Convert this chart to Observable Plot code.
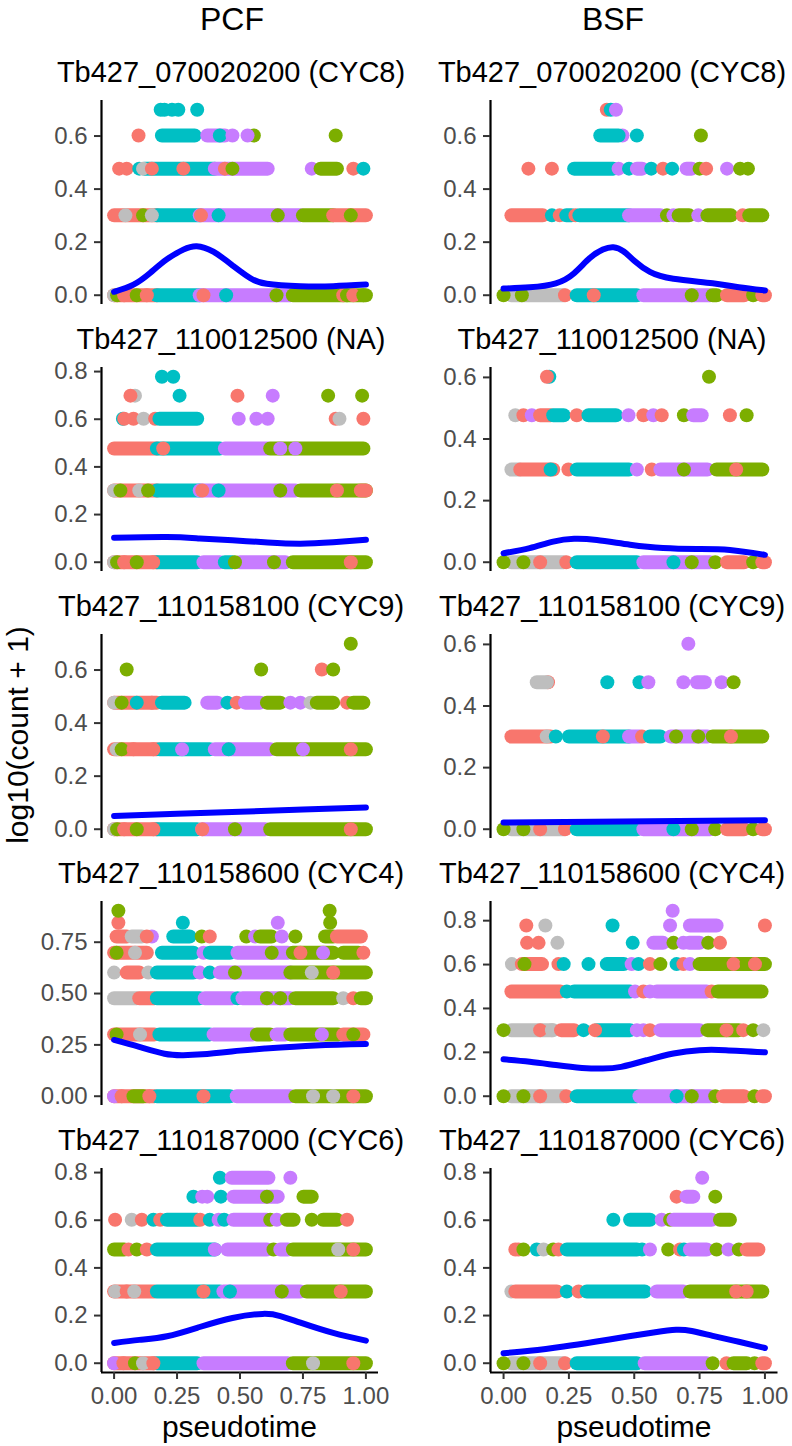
<!DOCTYPE html>
<html><head><meta charset="utf-8">
<script src="https://cdn.jsdelivr.net/npm/d3@7"></script>
<script src="https://cdn.jsdelivr.net/npm/@observablehq/plot@0.6"></script>
<style>
html,body{margin:0;padding:0;background:#fff;}
#wrap{position:relative;width:792px;height:1446px;overflow:hidden;background:#fff;}
.pnl{position:absolute;}
</style></head>
<body><div id="wrap"></div>
<script>
// ---------------- DATA ----------------
const columns = ["PCF", "BSF"];
const genes = ["Tb427_070020200 (CYC8)", "Tb427_110012500 (NA)", "Tb427_110158100 (CYC9)", "Tb427_110158600 (CYC4)", "Tb427_110187000 (CYC6)"];
const xLabel = "pseudotime";
const yLabel = "log10(count + 1)";
const groupKeys = ["s", "g", "c", "p", "n"];
const groupColors = ["#F8766D", "#7CAE00", "#00BFC4", "#C77CFF", "#BEBEBE"];
const xTicks = [0, 0.25, 0.5, 0.75, 1];
const pcfTicks = [[0, 0.2, 0.4, 0.6], [0, 0.2, 0.4, 0.6, 0.8], [0, 0.2, 0.4, 0.6], [0, 0.25, 0.5, 0.75], [0, 0.2, 0.4, 0.6, 0.8]];
const pcfDigits = [1, 1, 1, 2, 1];
const bsfTicks = [[0, 0.2, 0.4, 0.6], [0, 0.2, 0.4, 0.6], [0, 0.2, 0.4, 0.6], [0, 0.2, 0.4, 0.6, 0.8], [0, 0.2, 0.4, 0.6, 0.8]];
const bsfDigits = [1, 1, 1, 1, 1];

// cells: [count, group, pseudotime start, pseudotime end (runs of overlapping cells)]
const pcf_070020200 = [
 [0,"s",0,0.17],[0,"c",0.17,0.34],[0,"p",0.34,0.70],[0,"g",0.71,1.0],
 [0,"n",0],[0,"g",0.012],[0,"s",0.04],[0,"g",0.09],[0,"s",0.13],[0,"s",0.355],[0,"c",0.445],[0,"g",0.645],[0,"s",0.91],[0,"g",0.925],[0,"s",0.95],[0,"g",0.99],
 [1,"s",0,0.17],[1,"c",0.17,0.34],[1,"p",0.34,0.74],[1,"g",0.75,0.87],[1,"s",0.87,1.0],
 [1,"n",0.045],[1,"g",0.115],[1,"n",0.15],[1,"s",0.345],[1,"c",0.415],[1,"g",0.65],[1,"g",0.94],
 [2,"s",0.02],[2,"s",0.05],[2,"c",0.10],[2,"c",0.12,0.40],[2,"n",0.115],[2,"s",0.15],[2,"s",0.275],[2,"p",0.40,0.61],[2,"s",0.44],[2,"g",0.47],[2,"p",0.785],[2,"g",0.82,0.885],[2,"s",0.95],[2,"c",0.99],
 [3,"s",0.097],[3,"c",0.19,0.32],[3,"p",0.37,0.44],[3,"c",0.42],[3,"p",0.47],[3,"g",0.555],[3,"p",0.53],[3,"g",0.88],
 [4,"c",0.185],[4,"c",0.20],[4,"c",0.23],[4,"c",0.255],[4,"c",0.33]
];
const pcf_110012500 = [
 [0,"s",0,0.17],[0,"c",0.17,0.33],[0,"p",0.355,0.42],[0,"c",0.44,0.47],[0,"p",0.5,0.68],[0,"g",0.71,1.0],
 [0,"n",0],[0,"g",0.012],[0,"s",0.04],[0,"g",0.09],[0,"s",0.155],[0,"g",0.48],[0,"g",0.635],[0,"s",0.94],
 [1,"s",0,0.17],[1,"c",0.17,0.34],[1,"p",0.34,0.72],[1,"g",0.74,1.0],
 [1,"n",0],[1,"g",0.025],[1,"n",0.10],[1,"g",0.135],[1,"s",0.35],[1,"c",0.415],[1,"g",0.66],[1,"s",0.885],[1,"s",0.98,1.0],
 [2,"s",0,0.17],[2,"c",0.17,0.42],[2,"p",0.44,0.61],[2,"g",0.62,0.99],[2,"s",0.195],[2,"p",0.66],[2,"p",0.72],
 [3,"c",0.035],[3,"s",0.04],[3,"s",0.077],[3,"n",0.117],[3,"s",0.163],[3,"c",0.18,0.33],[3,"p",0.495],[3,"p",0.565],[3,"p",0.61],[3,"s",0.88],[3,"n",0.895],[3,"s",0.99],
 [4,"n",0.083],[4,"s",0.065],[4,"c",0.26],[4,"s",0.49],[4,"p",0.63],[4,"g",0.85],[4,"g",0.985],
 [5,"c",0.19],[5,"c",0.235]
];
const pcf_110158100 = [
 [0,"s",0,0.17],[0,"c",0.17,0.33],[0,"p",0.35,0.60],[0,"g",0.62,1.0],
 [0,"n",0],[0,"g",0.012],[0,"s",0.04],[0,"g",0.09],[0,"s",0.156],[0,"s",0.35],[0,"g",0.48],[0,"s",0.94],
 [1,"s",0,0.17],[1,"c",0.18,0.38],[1,"p",0.40,0.62],[1,"g",0.645,1.0],
 [1,"n",0.01],[1,"g",0.03],[1,"s",0.077],[1,"s",0.156],[1,"p",0.27],[1,"c",0.455],[1,"p",0.75],[1,"s",0.94],
 [2,"s",0,0.17],[2,"n",0],[2,"g",0.03],[2,"c",0.09],[2,"s",0.15],[2,"c",0.19,0.28],[2,"p",0.37,0.41],[2,"c",0.45],[2,"s",0.487],[2,"p",0.52,0.58],[2,"g",0.607,0.66],[2,"p",0.70],[2,"p",0.74],[2,"n",0.78],[2,"g",0.805,0.87],[2,"s",0.925],[2,"g",0.95,0.99],
 [3,"g",0.05],[3,"g",0.584],[3,"s",0.825],[3,"g",0.87],
 [4,"g",0.94]
];
const pcf_110158600 = [
 [0,"s",0,0.16],[0,"c",0.17,0.46],[0,"p",0.487,0.70],[0,"g",0.72,1.0],
 [0,"p",0],[0,"s",0.03],[0,"g",0.077,0.116],[0,"s",0.14],[0,"s",0.355],[0,"n",0.79],[0,"n",0.87],[0,"s",0.95],
 [1,"s",0,0.16],[1,"c",0.18,0.38],[1,"p",0.395,0.55],[1,"g",0.567,0.62],[1,"p",0.645,0.68],[1,"g",0.70,0.89],[1,"s",0.91,0.99],
 [1,"g",0.01],[1,"n",0.103],[1,"p",0.825],[1,"g",0.95],
 [2,"n",0,0.09],[2,"s",0.10,0.16],[2,"c",0.17,0.34],[2,"p",0.36,0.47],[2,"c",0.49],[2,"p",0.51,0.70],[2,"g",0.607],[2,"g",0.66],[2,"g",0.72,0.87],[2,"n",0.91],[2,"s",0.95],[2,"g",0.98,1.0],
 [3,"n",0],[3,"s",0.05,0.10],[3,"n",0.136],[3,"c",0.17,0.315],[3,"p",0.34],[3,"c",0.38],[3,"p",0.42,0.70],[3,"g",0.48],[3,"g",0.70,1.0],[3,"n",0.785],[3,"s",0.87],
 [4,"s",0,0.13],[4,"g",0.01],[4,"n",0.083],[4,"c",0.19,0.315],[4,"p",0.355],[4,"c",0.38,0.46],[4,"p",0.49,0.69],[4,"g",0.626],[4,"g",0.71,0.87],[4,"s",0.74],[4,"p",0.83],[4,"g",0.91,0.97],[4,"s",0.99],
 [5,"s",0.01,0.05],[5,"n",0.07,0.11],[5,"p",0.15],[5,"s",0.13],[5,"c",0.235,0.30],[5,"g",0.348],[5,"s",0.38],[5,"g",0.525],[5,"p",0.56],[5,"g",0.58,0.625],[5,"p",0.666],[5,"g",0.72],[5,"g",0.838,0.87],[5,"s",0.885,0.98],
 [6,"s",0.017],[6,"c",0.273],[6,"p",0.65],[6,"g",0.858],
 [7,"g",0.017],[7,"g",0.856]
];
const pcf_110187000 = [
 [0,"s",0,0.16],[0,"c",0.17,0.33],[0,"p",0.355,0.69],[0,"g",0.71,1.0],
 [0,"p",0],[0,"s",0.037],[0,"g",0.083],[0,"n",0.115],[0,"s",0.156],[0,"n",0.79],[0,"s",0.95],
 [1,"s",0,0.16],[1,"c",0.17,0.42],[1,"p",0.434,0.74],[1,"g",0.765,1.0],
 [1,"n",0.004],[1,"s",0.05],[1,"n",0.08],[1,"s",0.355],[1,"c",0.46],[1,"g",0.666],[1,"s",0.9],
 [2,"g",0,0.04],[2,"s",0.057],[2,"g",0.09],[2,"s",0.13],[2,"c",0.17,0.40],[2,"p",0.40],[2,"p",0.45,0.607],[2,"g",0.633],[2,"p",0.66,0.69],[2,"g",0.71,1.0],[2,"n",0.89],[2,"s",0.95],
 [3,"s",0.004],[3,"n",0.07],[3,"s",0.11],[3,"c",0.156],[3,"s",0.183],[3,"c",0.21,0.33],[3,"s",0.342],[3,"c",0.38],[3,"p",0.415],[3,"c",0.437],[3,"p",0.474,0.607],[3,"g",0.62],[3,"p",0.646],[3,"g",0.686,0.713],[3,"g",0.785],[3,"g",0.83,0.885],[3,"s",0.925],
 [4,"c",0.315],[4,"p",0.35],[4,"p",0.37],[4,"c",0.424],[4,"p",0.474,0.65],[4,"g",0.607],[4,"g",0.752,0.785],
 [5,"c",0.42],[5,"p",0.467,0.613],[5,"p",0.7]
];
const bsf_070020200 = [
 [0,"n",0.03,0.23],[0,"g",0],[0,"g",0.07],[0,"s",0.235],[0,"c",0.28,0.51],[0,"s",0.345],[0,"p",0.535,0.79],[0,"g",0.72],[0,"g",0.80,0.815],[0,"s",0.855,0.92],[0,"g",0.955],[0,"s",0.99,1.0],
 [1,"s",0.03,0.15],[1,"c",0.185],[1,"s",0.215],[1,"c",0.24,0.26],[1,"s",0.275],[1,"c",0.29,0.48],[1,"p",0.48,0.60],[1,"g",0.625],[1,"p",0.65],[1,"g",0.67,0.71],[1,"p",0.745],[1,"g",0.78,0.87],[1,"s",0.915],[1,"g",0.94,0.99],
 [2,"s",0.095],[2,"s",0.185],[2,"c",0.27,0.42],[2,"p",0.44],[2,"c",0.48],[2,"p",0.51,0.53],[2,"c",0.565],[2,"s",0.61],[2,"c",0.645],[2,"p",0.70,0.72],[2,"g",0.75],[2,"s",0.775],[2,"p",0.855],[2,"g",0.905],[2,"g",0.935],
 [3,"p",0.455],[3,"c",0.37,0.44],[3,"c",0.51],[3,"g",0.755],
 [4,"s",0.395],[4,"c",0.41],[4,"p",0.43]
];
const bsf_110012500 = [
 [0,"n",0.03,0.23],[0,"g",0],[0,"g",0.076],[0,"s",0.14],[0,"s",0.24],[0,"c",0.28,0.51],[0,"p",0.535,0.79],[0,"c",0.65],[0,"g",0.72],[0,"g",0.81],[0,"s",0.855,0.92],[0,"g",0.955],[0,"s",0.99,1.0],
 [1,"n",0.03,0.06],[1,"s",0.064,0.19],[1,"c",0.18],[1,"s",0.248],[1,"c",0.28,0.48],[1,"p",0.51],[1,"s",0.567],[1,"p",0.6,0.78],[1,"g",0.69],[1,"g",0.815,0.99],[1,"s",0.89],
 [2,"n",0.045],[2,"s",0.076],[2,"p",0.108],[2,"s",0.14,0.18],[2,"c",0.19,0.23],[2,"s",0.28],[2,"c",0.325,0.43],[2,"p",0.478],[2,"s",0.535],[2,"p",0.573],[2,"s",0.605],[2,"g",0.69],[2,"p",0.726,0.758],[2,"s",0.866],[2,"g",0.93],
 [3,"c",0.175],[3,"s",0.166],[3,"g",0.786]
];
const bsf_110158100 = [
 [0,"n",0.03,0.23],[0,"g",0],[0,"g",0.076],[0,"s",0.14],[0,"s",0.235],[0,"c",0.28,0.51],[0,"p",0.535,0.79],[0,"c",0.65],[0,"g",0.72],[0,"g",0.81],[0,"s",0.855,0.92],[0,"g",0.955],[0,"s",0.99,1.0],
 [1,"s",0.03,0.18],[1,"n",0.165],[1,"c",0.2],[1,"c",0.25,0.48],[1,"s",0.38],[1,"p",0.48,0.52],[1,"s",0.53],[1,"c",0.56,0.6],[1,"p",0.64,0.78],[1,"g",0.66],[1,"g",0.745],[1,"g",0.80,0.99],[1,"s",0.87],
 [2,"s",0.17],[2,"n",0.127,0.166],[2,"c",0.397],[2,"c",0.52],[2,"p",0.554],[2,"p",0.688],[2,"p",0.74,0.77],[2,"p",0.834],[2,"g",0.88],
 [3,"p",0.707]
];
const bsf_110158600 = [
 [0,"n",0.03,0.23],[0,"g",0],[0,"g",0.076],[0,"s",0.14],[0,"s",0.24],[0,"c",0.28,0.51],[0,"p",0.52,0.79],[0,"c",0.662],[0,"g",0.72],[0,"g",0.81],[0,"s",0.84,0.92],[0,"g",0.96],[0,"s",0.99,1.0],
 [1,"n",0.03,0.19],[1,"g",0],[1,"s",0.14],[1,"n",0.185],[1,"s",0.22,0.27],[1,"c",0.306],[1,"c",0.357,0.484],[1,"s",0.35],[1,"p",0.51],[1,"p",0.535],[1,"s",0.56],[1,"p",0.6,0.75],[1,"g",0.78,0.9],[1,"s",0.853],[1,"s",0.917],[1,"g",0.955],[1,"n",0.994],
 [2,"s",0.03,0.217],[2,"c",0.242],[2,"c",0.27,0.484],[2,"p",0.503],[2,"s",0.535],[2,"p",0.56],[2,"p",0.586,0.777],[2,"s",0.796],[2,"g",0.82,0.987],
 [3,"n",0.032],[3,"s",0.07,0.147],[3,"g",0.08],[3,"s",0.21],[3,"c",0.23],[3,"c",0.325],[3,"c",0.395,0.46],[3,"p",0.49],[3,"c",0.516],[3,"s",0.56],[3,"g",0.6],[3,"c",0.662],[3,"s",0.688],[3,"p",0.713],[3,"g",0.75,1.0],[3,"s",0.88],[3,"g",0.93],[3,"s",0.962],
 [4,"s",0.09],[4,"s",0.134],[4,"n",0.206],[4,"c",0.494],[4,"p",0.573,0.61],[4,"g",0.65],[4,"p",0.688],[4,"p",0.71,0.75],[4,"g",0.783],[4,"s",0.828],
 [5,"s",0.087],[5,"n",0.16],[5,"c",0.417],[5,"p",0.637],[5,"p",0.713,0.815],[5,"s",1.0],
 [6,"p",0.647]
];
const bsf_110187000 = [
 [0,"n",0.03,0.23],[0,"g",0],[0,"g",0.076],[0,"s",0.14],[0,"s",0.235],[0,"c",0.28,0.51],[0,"p",0.54,0.777],[0,"g",0.8],[0,"s",0.853],[0,"g",0.88,0.93],[0,"g",0.96],[0,"s",0.99,1.0],
 [1,"n",0.03],[1,"s",0.045,0.204],[1,"c",0.242],[1,"s",0.287],[1,"c",0.318,0.54],[1,"p",0.586,0.688],[1,"g",0.713,0.99],[1,"s",0.89],[1,"s",0.93],
 [2,"s",0.045],[2,"s",0.057],[2,"g",0.076],[2,"c",0.127],[2,"n",0.153],[2,"g",0.19],[2,"s",0.21],[2,"c",0.242,0.51],[2,"c",0.53],[2,"p",0.56],[2,"g",0.63],[2,"s",0.675],[2,"c",0.69],[2,"p",0.713,0.777],[2,"g",0.815],[2,"p",0.86],[2,"g",0.9],[2,"s",0.93,0.975],
 [3,"c",0.42],[3,"c",0.484,0.56],[3,"p",0.605],[3,"g",0.637],[3,"p",0.65,0.796],[3,"g",0.828,0.866],
 [4,"s",0.662],[4,"p",0.70,0.726],[4,"g",0.81],
 [5,"p",0.76]
];

// smoothed fits: [pseudotime, log10(count+1)]
const pcfFit_070020200 = [[0,0.013],[0.077,0.04],[0.143,0.084],[0.209,0.135],[0.275,0.172],[0.328,0.185],[0.394,0.164],[0.474,0.110],[0.54,0.065],[0.606,0.043],[0.74,0.034],[0.87,0.034],[1.0,0.04]];
const pcfFit_110012500 = [[0,0.103],[0.21,0.106],[0.34,0.10],[0.47,0.092],[0.61,0.083],[0.74,0.078],[0.87,0.084],[1,0.094]];
const pcfFit_110158100 = [[0,0.05],[0.5,0.066],[1,0.082]];
const pcfFit_110158600 = [[0,0.274],[0.1,0.24],[0.2,0.207],[0.27,0.2],[0.35,0.204],[0.5,0.222],[0.6,0.232],[0.8,0.247],[1,0.254]];
const pcfFit_110187000 = [[0,0.085],[0.1,0.098],[0.21,0.113],[0.34,0.152],[0.47,0.19],[0.59,0.207],[0.66,0.198],[0.74,0.17],[0.87,0.127],[1,0.095]];
const bsfFit_070020200 = [[0,0.025],[0.1,0.03],[0.2,0.045],[0.27,0.083],[0.33,0.14],[0.38,0.172],[0.42,0.181],[0.46,0.165],[0.5,0.13],[0.56,0.088],[0.65,0.062],[0.8,0.045],[0.9,0.03],[1.0,0.018]];
const bsfFit_110012500 = [[0,0.029],[0.1,0.046],[0.19,0.067],[0.27,0.076],[0.357,0.072],[0.484,0.057],[0.61,0.046],[0.74,0.043],[0.866,0.04],[1,0.024]];
const bsfFit_110158100 = [[0,0.022],[1,0.029]];
const bsfFit_110158600 = [[0,0.168],[0.1,0.157],[0.2,0.142],[0.3,0.129],[0.38,0.126],[0.45,0.134],[0.55,0.165],[0.65,0.195],[0.75,0.21],[0.85,0.21],[1,0.2]];
const bsfFit_110187000 = [[0,0.042],[0.1,0.052],[0.23,0.07],[0.35,0.09],[0.48,0.113],[0.58,0.13],[0.66,0.14],[0.72,0.135],[0.8,0.115],[0.9,0.09],[1,0.064]];

// ---------------- DRAW ----------------
const FONT = '"Liberation Sans", Arial, Helvetica, sans-serif';
const pcfRuns = [pcf_070020200, pcf_110012500, pcf_110158100, pcf_110158600, pcf_110187000];
const bsfRuns = [bsf_070020200, bsf_110012500, bsf_110158100, bsf_110158600, bsf_110187000];
const pcfFits = [pcfFit_070020200, pcfFit_110012500, pcfFit_110158100, pcfFit_110158600, pcfFit_110187000];
const bsfFits = [bsfFit_070020200, bsfFit_110012500, bsfFit_110158100, bsfFit_110158600, bsfFit_110187000];

const colGeo = [
  {left: 0, ml: 101, mr: 18, titleX: 231, headX: 232, xlabX: 239.5},
  {left: 396, ml: 94, mr: 14.5, titleX: 612, headX: 613, xlabX: 634}
];
const rowTop0 = 99.5, rowStep = 267, plotH = 204;
const wrap = document.getElementById("wrap");

function makePanel(runs, fit, ticks, digits, col, row, showX) {
  const data = runs.map(r => ({y: Math.log10(r[0] + 1), g: r[1], x1: r[2], x2: r.length > 3 ? r[3] : r[2]}));
  const ymax = d3.max(data, d => d.y);
  const y0 = -0.05 * ymax, y1 = 1.05 * ymax;
  const geo = colGeo[col];
  const mt = 8, mb = showX ? 50 : 8;
  const marks = [
    Plot.link(data, {x1: "x1", x2: "x2", y1: "y", y2: "y", stroke: "g", strokeWidth: 14, strokeLinecap: "round"}),
    Plot.line(fit, {x: d => d[0], y: d => d[1], stroke: "#0000FF", strokeWidth: 6, curve: "natural"}),
    Plot.ruleX([-0.05], {stroke: "#000", strokeWidth: 2.2}),
    Plot.axisY({ticks, tickFormat: d3.format("." + digits + "f"), tickSize: 7, tickPadding: 7, stroke: "#333", strokeWidth: 2, fill: "#4D4D4D", fontSize: 24, label: null})
  ];
  if (showX) {
    marks.push(Plot.ruleY([y0], {stroke: "#000", strokeWidth: 2.2}));
    marks.push(Plot.axisX({ticks: xTicks, tickFormat: d3.format(".2f"), tickSize: 7, tickPadding: 7, stroke: "#333", strokeWidth: 2, fill: "#4D4D4D", fontSize: 24, label: null}));
  }
  const svg = Plot.plot({
    width: 396, height: plotH + mt + mb,
    marginLeft: geo.ml, marginRight: geo.mr, marginTop: mt, marginBottom: mb,
    x: {domain: [-0.05, 1.05], label: null, axis: showX ? undefined : null},
    y: {domain: [y0, y1], label: null},
    color: {domain: groupKeys, range: groupColors},
    style: {fontFamily: FONT, fontSize: "24px", background: "transparent", overflow: "visible"},
    marks
  });
  const div = document.createElement("div");
  div.className = "pnl";
  div.style.left = geo.left + "px";
  div.style.top = (rowTop0 + row * rowStep - mt) + "px";
  div.appendChild(svg);
  wrap.appendChild(div);
}

for (let i = 0; i < 5; i++) {
  makePanel(pcfRuns[i], pcfFits[i], pcfTicks[i], pcfDigits[i], 0, i, i === 4);
  makePanel(bsfRuns[i], bsfFits[i], bsfTicks[i], bsfDigits[i], 1, i, i === 4);
}

// text overlay
const ov = d3.create("svg").attr("width", 792).attr("height", 1446)
  .style("position", "absolute").style("left", "0px").style("top", "0px")
  .style("pointer-events", "none").style("font-family", FONT);
columns.forEach((c, j) => {
  ov.append("text").attr("x", colGeo[j].headX).attr("y", 30).attr("text-anchor", "middle")
    .attr("font-size", 32).attr("fill", "#000").text(c);
  genes.forEach((g, i) => {
    ov.append("text").attr("x", colGeo[j].titleX).attr("y", 82 + i * rowStep).attr("text-anchor", "middle")
      .attr("font-size", 29).attr("fill", "#000").text(g);
  });
  ov.append("text").attr("x", colGeo[j].xlabX).attr("y", 1437).attr("text-anchor", "middle")
    .attr("font-size", 30).attr("fill", "#000").text(xLabel);
});
ov.append("text").attr("transform", "translate(28,735) rotate(-90)").attr("text-anchor", "middle")
  .attr("font-size", 30).attr("fill", "#000").text(yLabel);
wrap.appendChild(ov.node());
</script>
</body></html>
